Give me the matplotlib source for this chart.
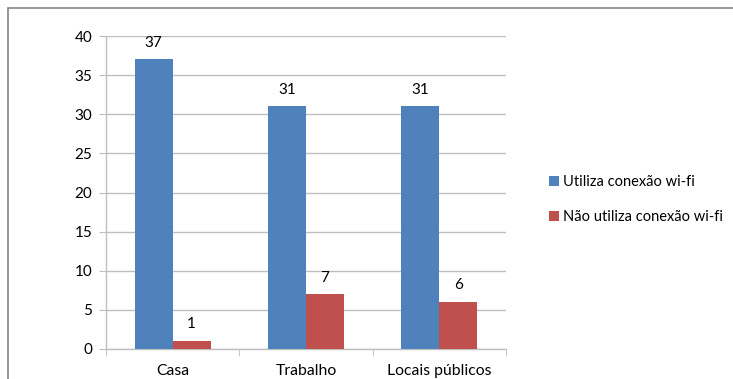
import matplotlib
matplotlib.use("Agg")
import matplotlib.pyplot as plt
import numpy as np
from matplotlib.patches import Rectangle

categories = ["Casa", "Trabalho", "Locais públicos"]
series_names = ["Utiliza conexão wi-fi", "Não utiliza conexão wi-fi"]
utiliza = [37, 31, 31]
nao_utiliza = [1, 7, 6]
yticks = [0, 5, 10, 15, 20, 25, 30, 35, 40]

blue = "#4F81BD"
red = "#C0504D"
grid_c = "#BFBFBF"

plt.rcParams['font.family'] = ['Lato', 'DejaVu Sans']

W, H = 733, 379
fig = plt.figure(figsize=(W / 100, H / 100), dpi=100)

# outer chart border (cut off right and bottom)
fig.patches.append(Rectangle((8 / W, -0.1), 1.2, 1.1 - 8 / H,
                             transform=fig.transFigure, fill=False,
                             edgecolor="#868686", linewidth=1.2))

ax = fig.add_axes([106 / W, 1 - 349 / H, (506 - 106) / W, (349 - 36) / H])
x = np.arange(len(categories))
bw = 0.285
b1 = ax.bar(x - bw / 2, utiliza, bw, color=blue, label=series_names[0], zorder=3)
b2 = ax.bar(x + bw / 2, nao_utiliza, bw, color=red, label=series_names[1], zorder=3)

for bars, vals in ((b1, utiliza), (b2, nao_utiliza)):
    for r, v in zip(bars, vals):
        ax.annotate(str(v), (r.get_x() + r.get_width() / 2, r.get_height()),
                    xytext=(0, 7), textcoords="offset points",
                    ha="center", va="bottom", fontsize=11, color="#000000")

ax.set_xlim(-0.5, len(categories) - 0.5)
ax.set_ylim(0, 40)
ax.set_yticks(yticks)
ax.set_yticklabels([str(t) for t in yticks], fontsize=11)
ax.yaxis.grid(True, color=grid_c, linewidth=1, zorder=0)
ax.set_axisbelow(True)

ax.set_xticks(x)
ax.set_xticklabels(categories, fontsize=11.3)
ax.set_xticks(np.arange(len(categories) + 1) - 0.5, minor=True)
ax.tick_params(axis='x', which='major', length=0, pad=11)
ax.tick_params(axis='x', which='minor', length=5, color=grid_c, direction='out')
ax.tick_params(axis='y', length=5, color=grid_c, direction='out', pad=5)

for s in ("top", "right"):
    ax.spines[s].set_visible(False)
for s in ("left", "bottom"):
    ax.spines[s].set_color(grid_c)
    ax.spines[s].set_linewidth(1)

leg = fig.legend(handles=[b1, b2], labels=series_names,
                 loc="upper left", bbox_to_anchor=(543 / W, 1 - 169 / H),
                 frameon=False, fontsize=10.5, handlelength=0.7, handleheight=0.7,
                 handletextpad=0.3, labelspacing=1.45, borderaxespad=0)

fig.savefig("out.png", dpi=100)
